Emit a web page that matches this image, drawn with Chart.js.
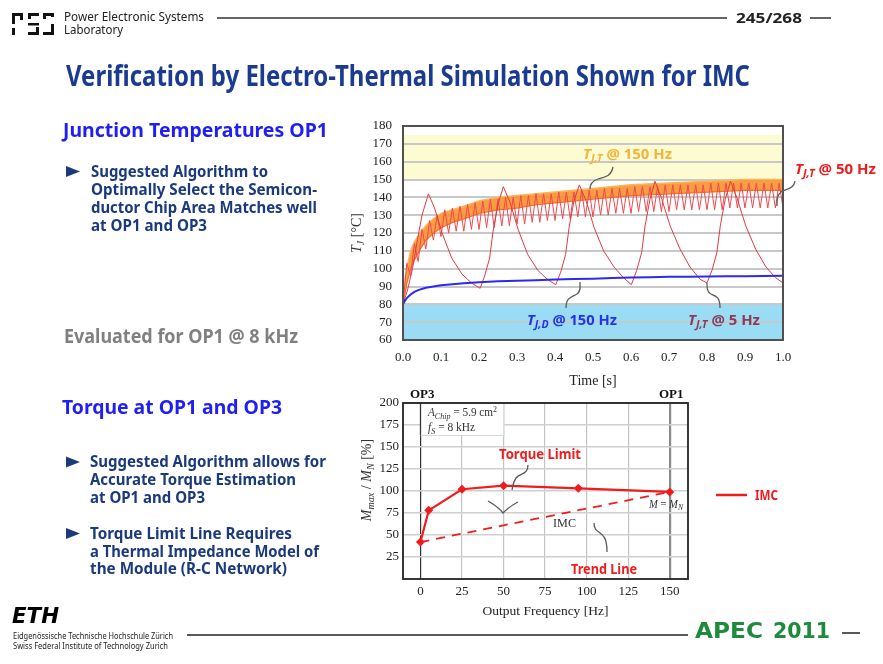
<!DOCTYPE html>
<html><head><meta charset="utf-8">
<script src="https://cdn.jsdelivr.net/npm/chart.js@4.4.1/dist/chart.umd.min.js"></script>
<style>
html,body{margin:0;padding:0;background:#fff;}
body{width:883px;height:664px;position:relative;overflow:hidden;font-family:"Noto Sans",sans-serif;}
.t{position:absolute;white-space:nowrap;line-height:1;transform-origin:0 50%;font-weight:bold;z-index:5;}
.s{font-family:"Liberation Serif",serif;font-weight:normal;color:#333;}
.t sub{font-size:0.72em;vertical-align:-0.28em;line-height:0;}
.t sup{font-size:0.7em;vertical-align:0.45em;line-height:0;}
.cv{position:absolute;}
svg.ov{position:absolute;left:0;top:0;pointer-events:none;z-index:4;}
.rot{position:absolute;white-space:nowrap;line-height:1;font-family:"Liberation Serif",serif;color:#333;transform:translate(-50%,-50%) rotate(-90deg);z-index:5;}
.rot sub{font-size:0.72em;vertical-align:-0.28em;line-height:0;}
</style></head><body>

<canvas id="c1" class="cv" width="460" height="285" style="left:340px;top:115px;width:460px;height:285px;"></canvas>
<canvas id="c2" class="cv" width="400" height="240" style="left:340px;top:385px;width:400px;height:240px;"></canvas>

<svg class="ov" width="883" height="664" viewBox="0 0 883 664">
  <!-- PES logo -->
  <g fill="#111">
    <rect x="12" y="13" width="11" height="3"/><rect x="12" y="13" width="3" height="11"/><rect x="20" y="13" width="3" height="7"/><rect x="12" y="28" width="3" height="7"/>
    <rect x="28" y="13" width="11" height="3"/><rect x="28" y="23" width="11" height="2.5"/><rect x="28" y="32" width="11" height="3"/><rect x="28" y="13" width="3" height="6"/><rect x="36" y="27" width="3" height="8"/>
    <rect x="43" y="13" width="11" height="3"/><rect x="43" y="13" width="3" height="6"/><rect x="51" y="13" width="3" height="4"/><rect x="51" y="24" width="3" height="11"/><rect x="43" y="32" width="11" height="3"/>
  </g>
  <line x1="217" y1="18" x2="727" y2="18" stroke="#333" stroke-width="1.5"/>
  <line x1="810" y1="18" x2="831" y2="18" stroke="#333" stroke-width="1.5"/>
  <line x1="187" y1="635" x2="688" y2="635" stroke="#222" stroke-width="1.5"/>
  <line x1="842" y1="633" x2="860" y2="633" stroke="#222" stroke-width="1.5"/>
  <!-- bullets -->
  <g fill="#1b3a7c">
    <polygon points="66,166 80,171.5 66,177"/>
    <polygon points="66,456.5 80,462 66,467.5"/>
    <polygon points="66,528 80,533.5 66,539"/>
  </g>
  <!-- pointers -->
  <g fill="none" stroke="#5a5a5a" stroke-width="1.3">
    <path d="M613,167 C611,177 604,177 598,179 C592,181 590,184 590,189"/>
    <path d="M795,181 C794,189 786,189 781,192 C777,195 777,200 777,206"/>
    <path d="M566,308 C566,297 572,297 577,294 C581,291 580,287 580,282"/>
    <path d="M720,308 C720,297 716,296 711,294 C707,292 707,288 707,283"/>
    <path d="M528,465 C528,475 520,473 516,478 C513,482 513,485 512,490"/>
    <path d="M488,501 C495,505 500,509 503,513 C507,509 512,505 518,502"/>
    <path d="M594,523 C594,532 600,531 604,537 C607,541 607,546 607,552"/>
  </g>
  <line x1="716" y1="495" x2="747" y2="495" stroke="#f01c1c" stroke-width="2.5"/>
</svg>

<!-- header -->
<div class="t" style="font-size:12px;color:#222;font-weight:normal" data-x="64" data-y="18" data-w="140">Power Electronic Systems</div>
<div class="t" style="font-size:12px;color:#222;font-weight:normal" data-x="64" data-y="31" data-w="59">Laboratory</div>
<div class="t" style="font-size:15px;color:#222" data-x="736" data-y="18" data-w="66">245/268</div>
<div class="t" style="font-size:28px;color:#1a3b8f" data-x="66" data-y="76" data-w="684">Verification by Electro-Thermal Simulation Shown for IMC</div>

<!-- left column -->
<div class="t" style="font-size:20px;color:#1f1ff5" data-x="63" data-y="131" data-w="265">Junction Temperatures OP1</div>
<div class="t" style="font-size:16px;color:#1b3a7c" data-x="91" data-y="172" data-w="177">Suggested Algorithm to</div>
<div class="t" style="font-size:16px;color:#1b3a7c" data-x="91" data-y="190" data-w="226">Optimally Select the Semicon-</div>
<div class="t" style="font-size:16px;color:#1b3a7c" data-x="91" data-y="208" data-w="226">ductor Chip Area Matches well</div>
<div class="t" style="font-size:16px;color:#1b3a7c" data-x="91" data-y="226" data-w="116">at OP1 and OP3</div>
<div class="t" style="font-size:19px;color:#808080" data-x="64" data-y="337" data-w="234">Evaluated for OP1 @ 8 kHz</div>
<div class="t" style="font-size:20px;color:#1f1ff5" data-x="62" data-y="408" data-w="220">Torque at OP1 and OP3</div>
<div class="t" style="font-size:16px;color:#1b3a7c" data-x="90" data-y="462" data-w="236">Suggested Algorithm allows for</div>
<div class="t" style="font-size:16px;color:#1b3a7c" data-x="90" data-y="480" data-w="206">Accurate Torque Estimation</div>
<div class="t" style="font-size:16px;color:#1b3a7c" data-x="90" data-y="498" data-w="115">at OP1 and OP3</div>
<div class="t" style="font-size:16px;color:#1b3a7c" data-x="90" data-y="534" data-w="202">Torque Limit Line Requires</div>
<div class="t" style="font-size:16px;color:#1b3a7c" data-x="90" data-y="552" data-w="229">a Thermal Impedance Model of</div>
<div class="t" style="font-size:16px;color:#1b3a7c" data-x="90" data-y="569" data-w="197">the Module (R-C Network)</div>

<!-- footer -->
<div class="t" style="font-size:21px;color:#000;font-style:italic;font-weight:900;font-family:'DejaVu Sans',sans-serif" data-x="12" data-y="618" data-w="47">ETH</div>
<div class="t" style="font-size:8.5px;color:#222;font-weight:normal" data-x="13" data-y="637" data-w="160">Eidgenössische Technische Hochschule Zürich</div>
<div class="t" style="font-size:8.5px;color:#222;font-weight:normal" data-x="13" data-y="647" data-w="155">Swiss Federal Institute of Technology Zurich</div>
<div class="t" style="font-size:21px;color:#1e8b3c;font-family:'DejaVu Sans',sans-serif" data-x="695" data-y="633" data-w="68">APEC</div>
<div class="t" style="font-size:21px;color:#1e8b3c;font-family:'DejaVu Sans',sans-serif" data-x="773" data-y="633" data-w="57">2011</div>

<!-- top chart annotations -->
<div class="rot" style="left:357px;top:233px;font-size:14px;"><i>T<sub>J</sub></i> [°C]</div>
<div class="t" style="font-size:14px;color:#f6b23a" data-x="583" data-y="155" data-w="89"><i>T<sub>J,T</sub></i> @ 150 Hz</div>
<div class="t" style="font-size:14px;color:#f01c1c" data-x="795" data-y="170" data-w="81"><i>T<sub>J,T</sub></i> @ 50 Hz</div>
<div class="t" style="font-size:14px;color:#2233ee" data-x="527" data-y="321" data-w="90"><i>T<sub>J,D</sub></i> @ 150 Hz</div>
<div class="t" style="font-size:14px;color:#8a3b5d" data-x="688" data-y="321" data-w="72"><i>T<sub>J,T</sub></i> @ 5 Hz</div>

<!-- bottom chart annotations -->
<div class="rot" style="left:367px;top:480px;font-size:14px;"><i>M<sub>max</sub></i> / <i>M<sub>N</sub></i> [%]</div>
<div class="t s" style="font-size:13px;font-weight:bold;color:#111" data-x="410" data-y="394">OP3</div>
<div class="t s" style="font-size:13px;font-weight:bold;color:#111" data-x="659" data-y="394">OP1</div>
<div class="t s" style="font-size:12.5px" data-x="428" data-y="413" data-w="69"><i>A<sub>Chip</sub></i> = 5.9 cm<sup>2</sup></div>
<div class="t s" style="font-size:12.5px" data-x="428" data-y="428" data-w="47"><i>f<sub>S</sub></i> = 8 kHz</div>
<div class="t s" style="font-size:12px" data-x="649" data-y="505" data-w="34"><i>M</i> = <i>M<sub>N</sub></i></div>
<div class="t s" style="font-size:13px" data-x="553" data-y="523" data-w="23">IMC</div>
<div class="t" style="font-size:15px;color:#f01c1c" data-x="499" data-y="454" data-w="82">Torque Limit</div>
<div class="t" style="font-size:15px;color:#f01c1c" data-x="571" data-y="569" data-w="66">Trend Line</div>
<div class="t" style="font-size:15px;color:#f01c1c" data-x="755" data-y="495" data-w="23">IMC</div>

<script>
// ---------- DATA ----------
const timeTicks = [0.0,0.1,0.2,0.3,0.4,0.5,0.6,0.7,0.8,0.9,1.0];
const tempTicks = [60,70,80,90,100,110,120,130,140,150,160,170,180];
const bandHot = [150,175];
const bandCool = [60,80];

// T_J,T @ 150 Hz : dense ripple drawn as its lower/upper envelope band
const t150   = [0,0.005,0.01,0.02,0.03,0.045,0.06,0.08,0.1,0.13,0.16,0.2,0.25,0.3,0.35,0.4,0.5,0.6,0.7,0.8,0.9,1.0];
const T150lo = [80,86,92,100,105,111,116,120,123,126,128,131,133,134,136,137,139,141,142,143,144,144];
const T150hi = [80,93,100,110,115,120,124,128,131,133,135,138,140,141,142,143,145,147,148,149,150,150];

// T_J,T @ 50 Hz : peaks and troughs of the ripple
const t50 = [0.00,0.01,0.02,0.03,0.04,0.05,0.06,0.07,0.08,0.09,0.10,0.11,0.12,0.13,0.14,0.15,0.16,0.17,0.18,0.19,
             0.20,0.21,0.22,0.23,0.24,0.25,0.26,0.27,0.28,0.29,0.30,0.31,0.32,0.33,0.34,0.35,0.36,0.37,0.38,0.39,
             0.40,0.41,0.42,0.43,0.44,0.45,0.46,0.47,0.48,0.49,0.50,0.51,0.52,0.53,0.54,0.55,0.56,0.57,0.58,0.59,
             0.60,0.61,0.62,0.63,0.64,0.65,0.66,0.67,0.68,0.69,0.70,0.71,0.72,0.73,0.74,0.75,0.76,0.77,0.78,0.79,
             0.80,0.81,0.82,0.83,0.84,0.85,0.86,0.87,0.88,0.89,0.90,0.91,0.92,0.93,0.94,0.95,0.96,0.97,0.98,0.99,1.00];
const T50 = [80,103,96,114,104,122,111,127,116,130,118,133,120,134,121,135,121,136,122,137,
             122,138,123,139,123,139,124,140,124,140,125,141,125,141,126,142,126,142,127,142,
             127,143,128,143,128,143,129,144,129,144,129,144,130,145,130,145,131,145,131,145,
             131,146,132,146,132,146,132,146,132,147,132,147,133,147,133,147,133,147,133,147,
             133,148,133,148,133,148,134,148,134,148,134,148,134,148,134,148,134,148,134,148,134];

// T_J,T @ 5 Hz
const t5 = [0,0.012,0.025,0.037,0.05,0.067,0.083,0.103,0.128,0.155,0.18,0.203,
            0.215,0.228,0.237,0.25,0.264,0.282,0.303,0.328,0.355,0.38,0.402,
            0.415,0.428,0.437,0.45,0.464,0.482,0.503,0.528,0.555,0.58,0.601,
            0.615,0.628,0.637,0.65,0.663,0.681,0.703,0.729,0.755,0.782,0.8,
            0.813,0.826,0.835,0.848,0.862,0.88,0.902,0.928,0.955,0.98,1.0];
const T5 = [80,88,100,115,130,142,134,120,106,97,92,89,
            96,106,121,136,146,137,122,108,99,94,91,
            98,108,123,138,147,138,123,110,101,95,91,
            99,109,124,139,149,139,124,111,101,94,92,
            99,109,124,139,149,139,124,111,101,95,92];

// T_J,D @ 150 Hz
const tD = [0,0.005,0.01,0.02,0.03,0.04,0.06,0.08,0.1,0.13,0.16,0.2,0.25,0.3,0.35,0.4,0.45,0.5,0.55,0.6,0.65,0.7,0.75,0.8,0.85,0.9,0.95,1.0];
const TD = [80,82,83.5,85.5,87,88,89.3,90,90.7,91.3,91.8,92.4,92.9,93.2,93.5,93.9,94.2,94.4,94.7,95,95.2,95.4,95.5,95.6,95.7,95.8,95.9,96];

// Torque chart
const freqTicks = [0,25,50,75,100,125,150];
const torqueTicks = [25,50,75,100,125,150,175,200];
const freqHz = [0,5,25,50,95,150];
const torqueLimit = [42,78,102,106,103,99];
const trendHz = [0,150];
const trendPct = [42,99];
const infoBoxHz = [0,50];
const infoBoxPct = [163,200];

// ---------- CHARTS ----------
const pts = (xs, ys) => xs.map((x, i) => ({x: x, y: ys[i]}));
const serif = 'Liberation Serif';
const noPadY = w => s => { s.width = w; s.paddingTop = 0; s.paddingBottom = 0; };
const noPadX = h => s => { s.height = h; s.paddingLeft = 0; s.paddingRight = 0; };

const bandsPlugin = {
  id: 'bands',
  beforeDraw(chart) {
    const {ctx, chartArea: a, scales: {y}} = chart;
    ctx.save();
    ctx.fillStyle = '#fdfbd2';
    let y1 = y.getPixelForValue(bandHot[1]), y0 = y.getPixelForValue(bandHot[0]);
    ctx.fillRect(a.left, y1, a.right - a.left, y0 - y1);
    ctx.fillStyle = '#9adcf4';
    y1 = y.getPixelForValue(bandCool[1]); y0 = y.getPixelForValue(bandCool[0]);
    ctx.fillRect(a.left, y1, a.right - a.left, y0 - y1);
    ctx.restore();
  }
};
const framePlugin = {
  id: 'frame',
  afterDraw(chart, args, opts) {
    const {ctx, chartArea: a} = chart;
    ctx.save();
    ctx.strokeStyle = opts.color || '#555';
    ctx.lineWidth = opts.width || 2;
    ctx.strokeRect(a.left, a.top, a.right - a.left, a.bottom - a.top);
    ctx.restore();
  }
};

new Chart(document.getElementById('c1'), {
  type: 'line',
  data: { datasets: [
    {label: 'TJD150', data: pts(tD, TD), borderColor: '#2a2af2', borderWidth: 2, pointRadius: 0, order: 0},
    {label: 'TJT5', data: pts(t5, T5), borderColor: '#dc3c44', borderWidth: 1, pointRadius: 0, order: 1},
    {label: 'TJT50', data: pts(t50, T50), borderColor: '#f0484e', borderWidth: 1, pointRadius: 0, order: 2},
    {label: 'TJT150hi', data: pts(t150, T150hi), borderColor: '#fcb45c', borderWidth: 1.5, pointRadius: 0, fill: '+1', backgroundColor: 'rgba(248,142,40,0.88)', order: 3},
    {label: 'TJT150lo', data: pts(t150, T150lo), borderColor: '#f2622a', borderWidth: 1.5, pointRadius: 0, order: 4}
  ]},
  options: {
    animation: false, responsive: false,
    layout: {padding: {top: 11, right: 17, bottom: 0, left: 0}},
    plugins: {legend: {display: false}, tooltip: {enabled: false}, frame: {color: '#505050', width: 2}},
    scales: {
      x: {type: 'linear', min: 0, max: 1,
          afterBuildTicks: s => { s.ticks = timeTicks.map(v => ({value: v})); },
          afterFit: noPadX(60),
          grid: {display: false, drawTicks: false}, border: {display: false},
          ticks: {padding: 10, color: '#222', maxRotation: 0, autoSkip: false, font: {family: serif, size: 13}, callback: v => Number(v).toFixed(1)},
          title: {display: true, text: 'Time [s]', color: '#222', font: {family: serif, size: 14}, padding: {top: 0, bottom: 10}}},
      y: {type: 'linear', min: 60, max: 180,
          afterBuildTicks: s => { s.ticks = tempTicks.map(v => ({value: v})); },
          afterFit: noPadY(63),
          grid: {color: '#c8c8c8', lineWidth: 2, drawTicks: false}, border: {display: false},
          ticks: {padding: 11, color: '#222', autoSkip: false, font: {family: serif, size: 13}}}
    }
  },
  plugins: [bandsPlugin, framePlugin]
});

const infoBoxPlugin = {
  id: 'infobox',
  beforeDatasetsDraw(chart) {
    const {ctx, scales: {x, y}} = chart;
    const l = x.getPixelForValue(infoBoxHz[0]), r = x.getPixelForValue(infoBoxHz[1]);
    const t = y.getPixelForValue(infoBoxPct[1]), b = y.getPixelForValue(infoBoxPct[0]);
    ctx.save();
    ctx.fillStyle = '#fff';
    ctx.fillRect(l, t, r - l, b - t);
    ctx.strokeStyle = '#d6d6d6'; ctx.lineWidth = 1;
    ctx.strokeRect(l + 0.5, t, r - l, b - t);
    ctx.strokeStyle = '#333'; ctx.lineWidth = 1.2;
    ctx.beginPath(); ctx.moveTo(l, t); ctx.lineTo(l, b); ctx.stroke();
    ctx.restore();
  }
};

new Chart(document.getElementById('c2'), {
  type: 'line',
  data: { datasets: [
    {label: 'IMC', data: pts(freqHz, torqueLimit), borderColor: '#f01c1c', backgroundColor: '#f01c1c', borderWidth: 2.2,
     pointStyle: 'rectRot', pointRadius: 4.5, pointBorderWidth: 0, order: 0},
    {label: 'Trend', data: pts(trendHz, trendPct), borderColor: '#f01c1c', borderWidth: 1.8, borderDash: [9, 7], pointRadius: 0, order: 1}
  ]},
  options: {
    animation: false, responsive: false,
    layout: {padding: {top: 18, right: 52, bottom: 0, left: 0}},
    plugins: {legend: {display: false}, tooltip: {enabled: false}, frame: {color: '#222', width: 1.8}},
    scales: {
      x: {type: 'linear', min: -10.5, max: 161,
          afterBuildTicks: s => { s.ticks = freqTicks.map(v => ({value: v})); },
          afterFit: noPadX(46),
          grid: {drawTicks: false,
                 color: c => c.tick && c.tick.value === 0 ? '#333' : (c.tick && c.tick.value === 150 ? '#8a8a8a' : '#c4c4c4'),
                 lineWidth: c => c.tick && c.tick.value === 150 ? 2.2 : 1.2},
          border: {display: false},
          ticks: {padding: 5, color: '#222', maxRotation: 0, autoSkip: false, font: {family: serif, size: 13}},
          title: {display: true, text: 'Output Frequency [Hz]', color: '#222', font: {family: serif, size: 13.5}, padding: {top: 0, bottom: 5}}},
      y: {type: 'linear', min: 0, max: 200,
          afterBuildTicks: s => { s.ticks = torqueTicks.map(v => ({value: v})); },
          afterFit: noPadY(63),
          grid: {color: '#cfcfcf', lineWidth: 1.6, drawTicks: false}, border: {display: false},
          ticks: {padding: 4, color: '#222', autoSkip: false, font: {family: serif, size: 13}}}
    }
  },
  plugins: [infoBoxPlugin, framePlugin]
});

// ---------- TEXT PLACEMENT ----------
function placeText() {
  document.querySelectorAll('.t').forEach(el => {
    const fs = parseFloat(getComputedStyle(el).fontSize);
    el.style.transform = 'none';
    el.style.left = el.dataset.x + 'px';
    el.style.top = (parseFloat(el.dataset.y) - 0.55 * fs) + 'px';
    if (el.dataset.w) {
      const nw = el.getBoundingClientRect().width;
      if (nw > 0) el.style.transform = 'scaleX(' + (parseFloat(el.dataset.w) / nw) + ')';
    }
  });
}
placeText();
if (document.fonts && document.fonts.ready) document.fonts.ready.then(placeText);
</script>
</body></html>
